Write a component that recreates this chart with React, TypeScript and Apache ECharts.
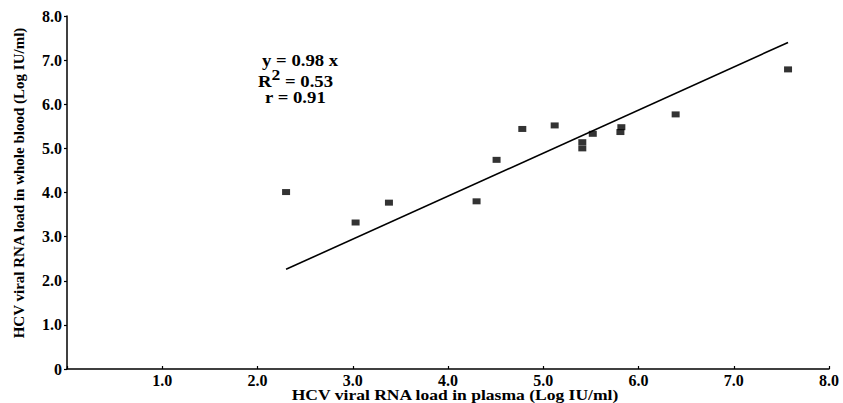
import React, { useEffect, useRef } from "react";
import * as echarts from "echarts";

const plasmaLoad = [2.30, 3.03, 3.38, 4.30, 4.51, 4.78, 5.12, 5.41, 5.41, 5.52, 5.81, 5.82, 6.39, 7.57];
const bloodLoad = [4.01, 3.32, 3.77, 3.80, 4.74, 5.44, 5.52, 5.14, 5.00, 5.33, 5.37, 5.48, 5.77, 6.79];
const fitLineX = [2.30, 7.57];
const fitLineY = [2.26, 7.40];
const xTicks = [1, 2, 3, 4, 5, 6, 7, 8];
const yTicks = [0, 1, 2, 3, 4, 5, 6, 7, 8];
const eqLines = ["y = 0.98 x", "R2 = 0.53", "r = 0.91"];
const xTitle = "HCV viral RNA load in plasma (Log IU/ml)";
const yTitle = "HCV viral RNA load in whole blood (Log IU/ml)";

const FONT = '"Liberation Serif", "DejaVu Serif", serif';
const SX = 1.17;

export default function App() {
  const ref = useRef<HTMLDivElement>(null);
  useEffect(() => {
    document.body.style.margin = "0";
    const chart = echarts.init(ref.current!, null, { renderer: "svg" });
    const pts = plasmaLoad.map((x, i) => [x, bloodLoad[i]]);
    const line = fitLineX.map((x, i) => [x, fitLineY[i]]);
    const txt = (s: string, x: number, y: number) => ({
      type: "text",
      x,
      y,
      scaleX: SX,
      style: {
        text: s,
        fontFamily: FONT,
        fontWeight: "bold",
        fontSize: 16,
        fill: "#000",
        verticalAlign: "middle",
      },
    });
    chart.setOption({
      animation: false,
      backgroundColor: "#ffffff",
      grid: { left: 67, right: 14, top: 16, bottom: 34 },
      xAxis: {
        type: "value",
        min: 0,
        max: 8,
        interval: 1,
        splitLine: { show: false },
        axisLine: { lineStyle: { color: "#000", width: 1.5 } },
        axisTick: { show: true, inside: true, length: 3, lineStyle: { color: "#000", width: 1.2 } },
        axisLabel: {
          color: "#000",
          fontFamily: FONT,
          fontWeight: "bold",
          fontSize: 16,
          margin: 3,
          formatter: (v: number) => (xTicks.includes(v) ? v.toFixed(1) : ""),
        },
      },
      yAxis: {
        type: "value",
        min: 0,
        max: 8,
        interval: 1,
        splitLine: { show: false },
        axisLine: { show: true, lineStyle: { color: "#000", width: 1.5 } },
        axisTick: { show: true, length: 3, lineStyle: { color: "#000", width: 1.2 } },
        axisLabel: {
          color: "#000",
          fontFamily: FONT,
          fontWeight: "bold",
          fontSize: 16,
          margin: 5,
          formatter: (v: number) => (yTicks.includes(v) ? (v === 0 ? "0" : v.toFixed(1)) : ""),
        },
      },
      series: [
        {
          type: "line",
          data: line,
          symbol: "none",
          lineStyle: { color: "#000", width: 1.6 },
          silent: true,
        },
        {
          type: "scatter",
          data: pts,
          symbol: "rect",
          symbolSize: [8, 6],
          itemStyle: { color: "#000" },
        },
      ],
      graphic: [
        txt(eqLines[0], 262, 60),
        {
          type: "text",
          x: 258,
          y: 78,
          scaleX: SX,
          style: {
            text: "{a|R}{s|2}{a| = 0.53}",
            verticalAlign: "middle",
            rich: {
              a: { fontFamily: FONT, fontWeight: "bold", fontSize: 16, fill: "#000", verticalAlign: "bottom" },
              s: { fontFamily: FONT, fontWeight: "bold", fontSize: 15, fill: "#000", verticalAlign: "top", padding: [0, 0, 7, 0] },
            },
          },
        },
        txt(eqLines[2], 265, 97),
        {
          type: "text",
          x: 455,
          y: 395,
          scaleX: SX,
          style: {
            text: xTitle,
            fontFamily: FONT,
            fontWeight: "bold",
            fontSize: 15,
            fill: "#000",
            align: "center",
            verticalAlign: "middle",
          },
        },
        {
          type: "text",
          x: 19,
          y: 183,
          rotation: Math.PI / 2,
          style: {
            text: yTitle,
            fontFamily: FONT,
            fontWeight: "bold",
            fontSize: 15,
            fill: "#000",
            align: "center",
            verticalAlign: "middle",
          },
        },
      ],
    });
    return () => chart.dispose();
  }, []);
  return <div ref={ref} style={{ position: "fixed", left: 0, top: 0, width: 843, height: 403 }} />;
}
